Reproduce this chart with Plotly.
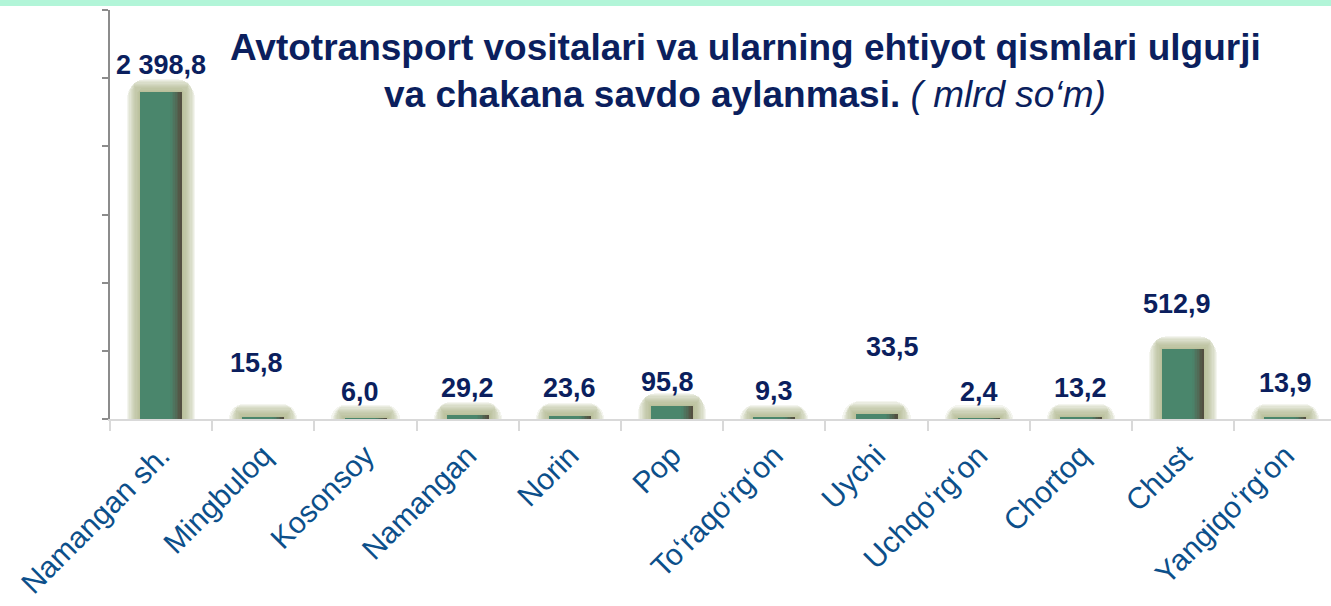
import plotly.graph_objects as go

# Data: wholesale and retail turnover of motor vehicles and spare parts, bln so'm
districts = ["Namangan sh.", "Mingbuloq", "Kosonsoy", "Namangan", "Norin", "Pop",
             "To‘raqo‘rg‘on", "Uychi", "Uchqo‘rg‘on", "Chortoq", "Chust", "Yangiqo‘rg‘on"]
turnover = [2398.8, 15.8, 6.0, 29.2, 23.6, 95.8, 9.3, 33.5, 2.4, 13.2, 512.9, 13.9]

# Manual label nudges (pixels) for the value callouts
label_dy = [27, 54, 26, 27, 28, 24, 27, 67, 27, 29, 45, 34]
label_dx = [0, -7, -6, 0, 0, -5, 0, 16, 0, 0, -6, 0]

W, H = 1331, 606
M_L, M_R, M_T, M_B = 110, 0, 10, 187
Y_MAX = 3000
px_per_unit = (H - M_T - M_B) / Y_MAX
px_per_cat = (W - M_L - M_R) / 11.947

FONT = "Liberation Sans, Arial, sans-serif"
NAVY = "#0b1f5e"
BAR_W = 0.41


def fmt(v):
    s = f"{v:,.1f}"
    return s.replace(",", " ").replace(".", ",")


fig = go.Figure()

# soft olive glow behind every bar (many faint layers -> blurred edge)
n_glow = 11
for k in range(n_glow, 0, -1):
    g = k * 1.2  # px of glow beyond the bar
    fig.add_trace(go.Bar(
        x=districts, y=[v + g / px_per_unit for v in turnover],
        width=BAR_W + 2 * g / px_per_cat,
        marker=dict(color="rgba(170,180,128,0.13)", line=dict(width=0),
                    cornerradius=int(g * 1.4 + 2)),
        hoverinfo="skip", showlegend=False))

# bar body
fig.add_trace(go.Bar(
    x=districts, y=turnover, width=BAR_W,
    marker=dict(color="#4a866c", line=dict(width=0)),
    hoverinfo="x+y", showlegend=False))

# darkening towards the right edge of each bar
shade_cols = ["#4b8269", "#4d7c65", "#4f745e", "#516b57", "#52624f", "#535847", "#534f41"]
strip = 0.016
for i, c in enumerate(shade_cols):
    off = BAR_W / 2 - (len(shade_cols) - i) * strip
    fig.add_trace(go.Bar(
        x=districts, y=turnover, width=strip + 0.002, offset=off,
        marker=dict(color=c, line=dict(width=0)),
        hoverinfo="skip", showlegend=False))

# value callouts
for name, v, dy, dx in zip(districts, turnover, label_dy, label_dx):
    fig.add_annotation(
        x=name, y=v, text=f"<b>{fmt(v)}</b>", showarrow=False,
        yanchor="middle", xanchor="center", yshift=dy, xshift=dx,
        font=dict(family=FONT, size=27, color=NAVY))

# chart heading
fig.add_annotation(
    xref="paper", yref="paper", x=(745 - M_L) / (W - M_L), y=1 - (48 - M_T) / (H - M_T - M_B),
    text="<b>Avtotransport vositalari va ularning ehtiyot qismlari ulgurji</b>",
    showarrow=False, xanchor="center", yanchor="middle",
    font=dict(family=FONT, size=37, color=NAVY))
fig.add_annotation(
    xref="paper", yref="paper", x=(745 - M_L) / (W - M_L), y=1 - (94 - M_T) / (H - M_T - M_B),
    text="<b>va chakana savdo aylanmasi.</b> <i>( mlrd so‘m)</i>",
    showarrow=False, xanchor="center", yanchor="middle",
    font=dict(family=FONT, size=37, color=NAVY))

# mint band along the top edge
ph = H - M_T - M_B
pw = W - M_L - M_R
fig.add_shape(type="rect", xref="paper", yref="paper",
              x0=-M_L / pw, x1=1.01, y0=1 + (M_T - 6) / ph, y1=1 + M_T / ph + 0.01,
              fillcolor="#b2f5d8", line=dict(width=0), layer="above")

fig.update_layout(
    width=W, height=H,
    margin=dict(l=M_L, r=M_R, t=M_T, b=M_B, pad=0, autoexpand=False),
    paper_bgcolor="white", plot_bgcolor="white",
    barmode="overlay", bargap=0,
    font=dict(family=FONT),
    xaxis=dict(
        range=[-0.5, 11.447], type="category", automargin=False,
        showline=True, linecolor="#d9d9d9", linewidth=2,
        ticks="outside", tickson="boundaries", ticklen=10,
        tickcolor="#d9d9d9", tickwidth=2,
        tickangle=-45, ticklabelstandoff=5,
        tickfont=dict(family=FONT, size=30, color="#0c4f8a"),
        showgrid=False, zeroline=False, fixedrange=True),
    yaxis=dict(
        range=[0, Y_MAX], dtick=500, showticklabels=False, automargin=False,
        showline=True, linecolor="#8c8c8c", linewidth=1.5,
        ticks="outside", ticklen=6, tickcolor="#8c8c8c", tickwidth=1.5,
        showgrid=False, zeroline=False, fixedrange=True),
)

fig.write_html("out.html")
